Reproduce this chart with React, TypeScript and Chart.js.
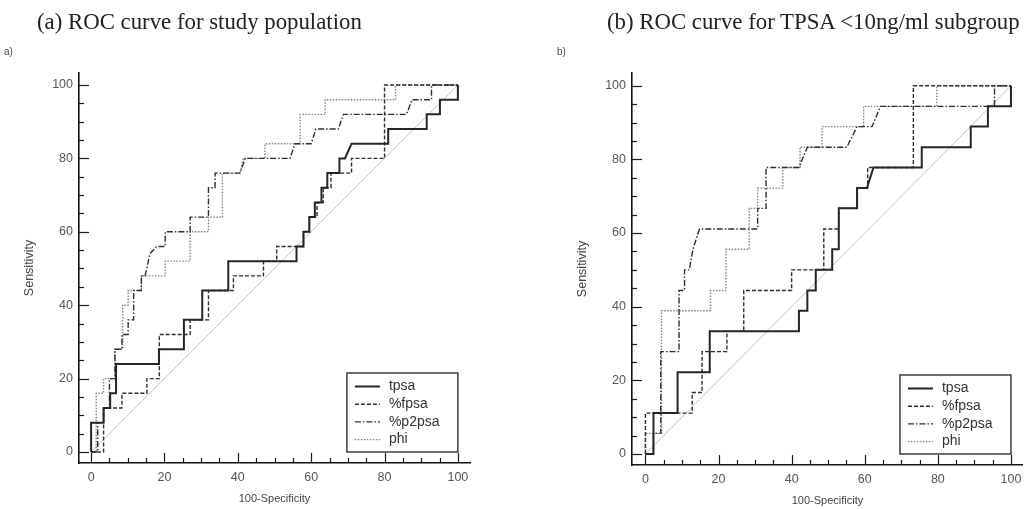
import React, { useEffect, useRef } from 'react';
import { Chart, registerables } from 'chart.js';

Chart.register(...registerables);

type Pt = [number, number];

const SERIES_NAMES = ['tpsa', '%fpsa', '%p2psa', 'phi'];
const TICK_VALUES = [0, 20, 40, 60, 80, 100];
const MINOR_STEP = 5;
const TITLE_A = '(a) ROC curve for study population';
const TITLE_B = '(b) ROC curve for TPSA <10ng/ml subgroup';
const X_TITLE = '100-Specificity';
const Y_TITLE = 'Sensitivity';

// Panel (a): study population  [100-Specificity, Sensitivity]
const A_TPSA: Pt[] = [[0,0],[0,8],[3.4,8],[3.4,12],[5.2,12],[5.2,16],[6.8,16],[6.8,24],[18.5,24],[18.5,28],[25.3,28],[25.3,36],[30.3,36],[30.3,44],[37.4,44],[37.4,52],[56,52],[56,56],[57.9,56],[57.9,60],[59.5,60],[59.5,64],[61,64],[61,68],[62.8,68],[62.8,72],[64.4,72],[64.4,76],[67.7,76],[67.7,80],[69.2,80],[71,84],[81,84],[81,88],[91.5,88],[91.5,92],[95.1,92],[95.1,96],[100,96],[100,100]];
const A_FPSA: Pt[] = [[0,0],[3.4,0],[3.4,12],[8.4,12],[8.4,16],[15.2,16],[15.2,20],[18.6,20],[18.6,32],[27,32],[27,36],[32,36],[32,44],[38.8,44],[38.8,48],[47,48],[47,52],[50.6,52],[50.6,56],[57.9,56],[57.9,60],[59.5,60],[59.5,64],[61.6,64],[61.6,68],[63.3,68],[63.3,72],[65.4,72],[65.4,76],[71,76],[71,80],[80,80],[80,100],[100,100]];
const A_P2PSA: Pt[] = [[0,0],[1.8,0],[1.8,8],[3.4,8],[3.4,12],[5,12],[5,20],[6.5,20],[6.5,28],[8.4,28],[8.4,32],[10.1,32],[10.1,36],[11.6,36],[11.6,44],[13.7,44],[13.7,48],[14.7,48],[15.2,50],[16,54],[17.9,56],[20.2,56],[20.2,60],[27,60],[27,64],[32,64],[32,72],[33.8,72],[33.8,76],[40.6,76],[42,80],[54.2,80],[55.6,84],[60,84],[61.3,88],[67.4,88],[68.8,92],[86,92],[87.5,96],[92.8,96],[92.8,100],[100,100]];
const A_PHI: Pt[] = [[0,0],[1.4,0],[1.4,16],[3.4,16],[3.4,20],[6.5,20],[6.5,28],[8.6,28],[8.6,40],[10.1,40],[10.1,44],[13.7,44],[13.7,48],[20.2,48],[20.2,52],[27,52],[27,60],[32,60],[32,64],[35.8,64],[35.8,76],[40.6,76],[41.5,80],[47.4,80],[47.4,84],[57,84],[57,92],[63.8,92],[63.8,96],[83,96],[83,100],[100,100]];

// Panel (b): TPSA < 10 ng/ml subgroup
const B_TPSA: Pt[] = [[0,0],[2.2,0],[2.2,11.1],[8.8,11.1],[8.8,22.2],[17.6,22.2],[17.6,33.3],[42,33.3],[42,38.9],[44.3,38.9],[44.3,44.4],[46.6,44.4],[46.6,50],[51.1,50],[51.1,55.6],[52.9,55.6],[52.9,66.7],[57.9,66.7],[57.9,72.2],[60.6,72.2],[62.4,77.8],[75.6,77.8],[75.6,83.3],[89,83.3],[89,88.9],[93.7,88.9],[93.7,94.4],[100,94.4],[100,100]];
const B_FPSA: Pt[] = [[0,0],[0,11.1],[12.8,11.1],[12.8,16.7],[15.5,16.7],[15.5,27.8],[22.3,27.8],[22.3,33.3],[26.9,33.3],[26.9,44.4],[40,44.4],[40,50],[48.8,50],[48.8,61.1],[52.9,61.1],[52.9,66.7],[57.9,66.7],[57.9,72.2],[60.8,72.2],[60.8,77.8],[73.3,77.8],[73.3,100],[100,100]];
const B_P2PSA: Pt[] = [[0,0],[2.2,0],[2.2,5.6],[4.2,5.6],[4.2,27.8],[9.2,27.8],[9.2,44.4],[10.7,44.4],[10.7,50],[12,50],[13,55.6],[14.8,61.1],[30.7,61.1],[30.7,66.7],[33,66.7],[33,77.8],[42,77.8],[44.3,83.3],[55.1,83.3],[57.9,88.9],[62,88.9],[64.3,94.4],[95.5,94.4],[95.5,100],[100,100]];
const B_PHI: Pt[] = [[0,0],[0,5.6],[4.4,5.6],[4.4,38.9],[17.8,38.9],[17.8,44.4],[22,44.4],[22,55.6],[28.4,55.6],[28.4,66.7],[30.7,66.7],[30.7,72.2],[37.6,72.2],[37.6,77.8],[42.3,77.8],[42.3,83.3],[48.3,83.3],[48.3,88.9],[59.7,88.9],[59.7,94.4],[79.7,94.4],[79.7,100],[100,100]];

const REFERENCE_LINE: Pt[] = [[0, 0], [100, 100]];

const LINE_STYLES = [
  { color: '#262626', width: 2, dash: [] as number[] },
  { color: '#2e2e2e', width: 1.4, dash: [4, 2] },
  { color: '#2e2e2e', width: 1.4, dash: [6, 2, 1.5, 2] },
  { color: '#858585', width: 1.4, dash: [1.5, 1.5] },
];

const SANS = '"Liberation Sans", Arial, sans-serif';

interface PanelProps {
  label: string;
  series: Pt[][];
  left: number;
  width: number;
  height: number;
  yAxisWidth: number;
  xAxisHeight: number;
  pad: { left: number; top: number; right: number; bottom: number };
  xRange: [number, number];
  yRange: [number, number];
}

function makeDecor(label: string) {
  return {
    id: 'rocDecor',
    afterDraw(chart: any) {
      const { ctx, chartArea: ca, scales } = chart;
      const xs = scales.x;
      const ys = scales.y;
      ctx.save();
      // inner tick marks
      ctx.strokeStyle = '#1a1a1a';
      ctx.lineWidth = 1.2;
      for (let v = 0; v <= 100; v += MINOR_STEP) {
        const len = v % 20 === 0 ? 10 : 5;
        const py = Math.round(ys.getPixelForValue(v)) + 0.5;
        ctx.beginPath();
        ctx.moveTo(ca.left, py);
        ctx.lineTo(ca.left + len, py);
        ctx.stroke();
        const px = Math.round(xs.getPixelForValue(v)) + 0.5;
        ctx.beginPath();
        ctx.moveTo(px, ca.bottom);
        ctx.lineTo(px, ca.bottom - len);
        ctx.stroke();
      }
      // axis titles
      ctx.fillStyle = '#444';
      ctx.font = `11px ${SANS}`;
      ctx.textAlign = 'center';
      ctx.textBaseline = 'middle';
      ctx.fillText(X_TITLE, (ca.left + ca.right) / 2, ca.bottom + 36);
      ctx.save();
      ctx.translate(ca.left - 49, (ca.top + ca.bottom) / 2);
      ctx.rotate(-Math.PI / 2);
      ctx.font = `12.5px ${SANS}`;
      ctx.fillText(Y_TITLE, 0, 0);
      ctx.restore();
      // panel label
      ctx.textAlign = 'left';
      ctx.font = `10px ${SANS}`;
      ctx.fillText(label, ca.left - 75, ca.top - 21);
      // legend box
      const right = xs.getPixelForValue(100);
      const bottom = ys.getPixelForValue(0);
      const w = 111;
      const h = 79;
      const l = right - w;
      const t = bottom - h;
      ctx.fillStyle = '#fff';
      ctx.fillRect(l, t, w, h);
      ctx.strokeStyle = '#222';
      ctx.lineWidth = 1.3;
      ctx.strokeRect(l, t, w, h);
      chart.data.datasets.slice(0, SERIES_NAMES.length).forEach((ds: any, i: number) => {
        const y = t + 13.5 + i * 17.7;
        ctx.strokeStyle = ds.borderColor;
        ctx.lineWidth = ds.borderWidth;
        ctx.setLineDash(ds.borderDash || []);
        ctx.beginPath();
        ctx.moveTo(l + 8, y);
        ctx.lineTo(l + 33, y);
        ctx.stroke();
        ctx.setLineDash([]);
        ctx.fillStyle = '#333';
        ctx.font = `14px ${SANS}`;
        ctx.textAlign = 'left';
        ctx.textBaseline = 'middle';
        ctx.fillText(ds.label, l + 42, y);
      });
      ctx.restore();
    },
  };
}

function RocPanel(p: PanelProps) {
  const ref = useRef<HTMLCanvasElement>(null);
  useEffect(() => {
    const canvas = ref.current!;
    const datasets: any[] = p.series.map((pts, i) => ({
      label: SERIES_NAMES[i],
      data: pts.map(([x, y]) => ({ x, y })),
      showLine: true,
      borderColor: LINE_STYLES[i].color,
      borderWidth: LINE_STYLES[i].width,
      borderDash: LINE_STYLES[i].dash,
      borderCapStyle: 'butt',
      borderJoinStyle: 'miter',
      pointRadius: 0,
      pointHoverRadius: 0,
      fill: false,
      tension: 0,
      clip: false,
    }));
    datasets.push({
      label: 'reference',
      data: REFERENCE_LINE.map(([x, y]) => ({ x, y })),
      showLine: true,
      borderColor: '#c4c4c4',
      borderWidth: 1,
      pointRadius: 0,
      fill: false,
      clip: false,
    });
    const tickFont = { family: SANS, size: 12.5 };
    const chart = new Chart(canvas, {
      type: 'scatter',
      data: { datasets },
      options: {
        animation: false,
        responsive: false,
        events: [],
        layout: { padding: p.pad },
        plugins: { legend: { display: false }, tooltip: { enabled: false }, title: { display: false } },
        scales: {
          x: {
            type: 'linear',
            min: p.xRange[0],
            max: p.xRange[1],
            afterFit: (s: any) => { s.height = p.xAxisHeight; },
            afterBuildTicks: (s: any) => { s.ticks = TICK_VALUES.map((v) => ({ value: v })); },
            grid: { display: false, drawTicks: false },
            border: { display: true, color: '#111', width: 1.6 },
            ticks: { padding: 7.5, color: '#555', font: tickFont, maxRotation: 0, autoSkip: false },
          },
          y: {
            type: 'linear',
            min: p.yRange[0],
            max: p.yRange[1],
            afterFit: (s: any) => { s.width = p.yAxisWidth; },
            afterBuildTicks: (s: any) => { s.ticks = TICK_VALUES.map((v) => ({ value: v })); },
            grid: { display: false, drawTicks: false },
            border: { display: true, color: '#111', width: 1.6 },
            ticks: { padding: 6, color: '#555', font: tickFont, autoSkip: false },
          },
        },
      } as any,
      plugins: [makeDecor(p.label)],
    });
    return () => chart.destroy();
  }, []);
  return (
    <canvas
      ref={ref}
      width={p.width}
      height={p.height}
      style={{ position: 'absolute', left: p.left, top: 0, width: p.width, height: p.height }}
    />
  );
}

const titleStyle: React.CSSProperties = {
  position: 'absolute',
  top: 11,
  fontFamily: '"Liberation Serif", "Times New Roman", serif',
  fontSize: '22.8px',
  lineHeight: 1,
  color: '#222',
  whiteSpace: 'nowrap',
};

export default function App() {
  return (
    <div style={{ position: 'absolute', left: 0, top: 0, width: 1029, height: 509, background: '#fff', overflow: 'hidden' }}>
      <RocPanel
        label="a)"
        series={[A_TPSA, A_FPSA, A_P2PSA, A_PHI]}
        left={0}
        width={515}
        height={509}
        yAxisWidth={79}
        xAxisHeight={46}
        pad={{ left: 0, top: 73, right: 45, bottom: 0 }}
        xRange={[-3.3, 103.3]}
        yRange={[-3.0, 103.27]}
      />
      <RocPanel
        label="b)"
        series={[B_TPSA, B_FPSA, B_P2PSA, B_PHI]}
        left={515}
        width={514}
        height={509}
        yAxisWidth={117}
        xAxisHeight={44}
        pad={{ left: 0, top: 73, right: 4, bottom: 0 }}
        xRange={[-3.67, 103.27]}
        yRange={[-2.99, 103.45]}
      />
      <div style={{ ...titleStyle, left: 37 }}>{TITLE_A}</div>
      <div style={{ ...titleStyle, left: 607 }}>{TITLE_B}</div>
    </div>
  );
}
